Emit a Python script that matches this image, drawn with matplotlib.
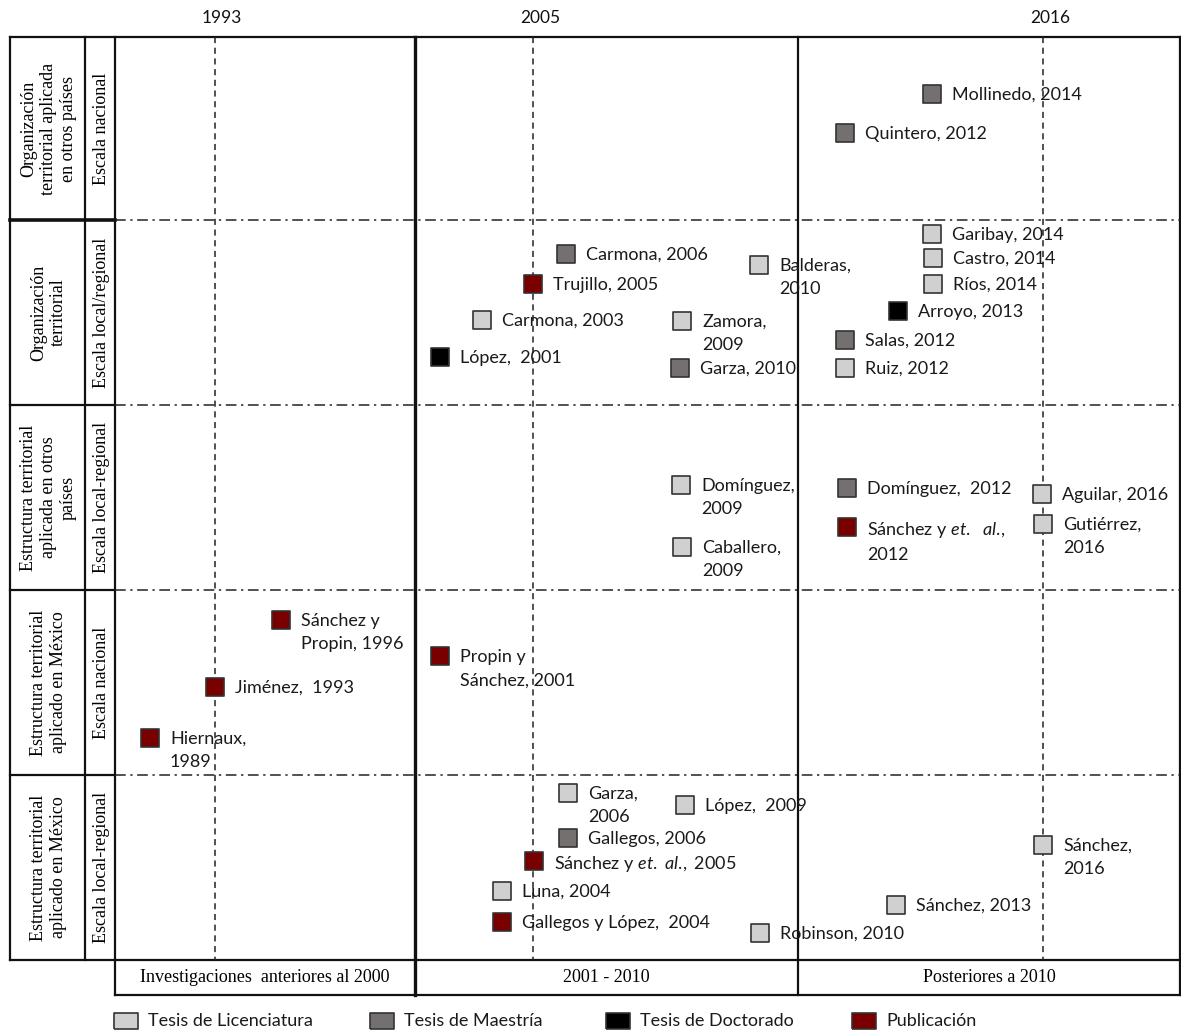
import matplotlib
matplotlib.use("Agg")
import matplotlib.pyplot as plt

plt.rcParams["font.family"] = ["Lato", "DejaVu Sans"]
plt.rcParams["mathtext.fontset"] = "custom"
plt.rcParams["mathtext.rm"] = "Lato"
plt.rcParams["mathtext.it"] = "Lato:italic"

### Data: each work, its kind and where it sits on the diagram (pixel units)
labels = [
    "Mollinedo, 2014", "Quintero, 2012",
    "Garibay, 2014", "Castro, 2014", "Ríos, 2014", "Arroyo, 2013",
    "Salas, 2012", "Ruiz, 2012", "Carmona, 2006", "Balderas,\n2010",
    "Trujillo, 2005", "Carmona, 2003", "Zamora,\n2009", "López,  2001",
    "Garza, 2010",
    "Domínguez,\n2009", "Caballero,\n2009", "Domínguez,  2012",
    "Sánchez y $et.\\ \\ al.\\!,$\n2012", "Aguilar, 2016", "Gutiérrez,\n2016",
    "Sánchez y\nPropin, 1996", "Jiménez,  1993", "Hiernaux,\n1989",
    "Propin y\nSánchez, 2001",
    "Garza,\n2006", "López,  2009", "Gallegos, 2006",
    "Sánchez y $et.\\ al.\\!,$ 2005", "Luna, 2004", "Gallegos y López,  2004",
    "Robinson, 2010", "Sánchez, 2013", "Sánchez,\n2016",
]
kinds = [
    "M", "M",
    "L", "L", "L", "D",
    "M", "L", "M", "L",
    "P", "L", "L", "D",
    "M",
    "L", "L", "M",
    "P", "L", "L",
    "P", "P", "P",
    "P",
    "L", "L", "M",
    "P", "L", "P",
    "L", "L", "L",
]
pos_x = [
    932, 845,
    932, 933, 933, 898,
    845, 845, 566, 759,
    533, 482, 682, 440,
    680,
    681, 682, 847,
    847, 1042, 1043,
    281, 215, 150,
    440,
    568, 685, 568,
    534, 502, 502,
    760, 896, 1043,
]
pos_y = [
    94, 133,
    234, 258, 284, 311,
    340, 368, 254, 265,
    284, 320, 321, 357,
    368,
    485, 547, 488,
    527, 494, 524,
    620, 687, 738,
    656,
    793, 805, 838,
    861, 891, 922,
    933, 905, 845,
]

kind_names = {"L": "Tesis de Licenciatura", "M": "Tesis de Maestría",
              "D": "Tesis de Doctorado", "P": "Publicación"}
kind_colors = {"L": "#d0d0d0", "M": "#747070", "D": "#000000", "P": "#7a0000"}

row_titles = [
    "Organización\nterritorial aplicada\nen otros países",
    "Organización\nterritorial",
    "Estructura territorial\naplicada en otros\npaíses",
    "Estructura territorial\naplicado en México",
    "Estructura territorial\naplicado en México",
]
row_scales = ["Escala nacional", "Escala local/regional",
              "Escala local-regional", "Escala nacional",
              "Escala local-regional"]
period_names = ["Investigaciones  anteriores al 2000", "2001 - 2010",
                "Posteriores a 2010"]
year_names = ["1993", "2005", "2016"]

### Layout of the grid (pixel units)
row_edges = [37, 220, 405, 590, 775, 960]
period_edges = [115, 415, 798, 1180]
year_x = [215, 533, 1043]
left_cols = [10, 85, 115]
bottom_row = [960, 995]

fig = plt.figure(figsize=(11.81, 10.34), dpi=100)
ax = fig.add_axes([0, 0, 1, 1])
ax.set_xlim(0, 1181)
ax.set_ylim(1034, 0)
ax.axis("off")

serif = ["Liberation Serif", "DejaVu Serif"]

# frame lines
lw = 1.6
ax.plot([left_cols[0], period_edges[-1]], [row_edges[0]] * 2, color="#111", lw=lw)
ax.plot([left_cols[0], period_edges[-1]], [row_edges[-1]] * 2, color="#111", lw=lw)
for x in left_cols:
    ax.plot([x, x], [row_edges[0], row_edges[-1]], color="#111", lw=lw)
ax.plot([period_edges[-1]] * 2, [row_edges[0], bottom_row[1]], color="#111", lw=lw)
ax.plot([period_edges[0]] * 2, [row_edges[-1], bottom_row[1]], color="#111", lw=lw)
ax.plot([period_edges[1]] * 2, [row_edges[0], bottom_row[1]], color="#111", lw=2.4)
ax.plot([period_edges[2]] * 2, [row_edges[0], bottom_row[1]], color="#111", lw=lw)
ax.plot([period_edges[0], period_edges[-1]], [bottom_row[1]] * 2, color="#111", lw=lw)

for i, y in enumerate(row_edges[1:-1]):
    ax.plot([left_cols[0], left_cols[-1]], [y, y], color="#111",
            lw=2.6 if i == 0 else lw)
    ax.plot([period_edges[0], period_edges[-1]], [y, y], color="#222",
            lw=1.1, dashes=(7, 3, 1.5, 3))

for x, name in zip(year_x, year_names):
    ax.plot([x, x], [row_edges[0], row_edges[-1]], color="#222", lw=1.1,
            dashes=(4, 3))
    ax.text(x + 7, 18, name, ha="center", va="center", fontsize=12.5,
            color="#111")

# left row headers
for i in range(5):
    yc = (row_edges[i] + row_edges[i + 1]) / 2
    ax.text((left_cols[0] + left_cols[1]) / 2 + 1, yc, row_titles[i],
            rotation=90, ha="center", va="center", fontsize=13,
            family=serif, linespacing=1.2)
    ax.text((left_cols[1] + left_cols[2]) / 2 + 1, yc, row_scales[i],
            rotation=90, ha="center", va="center", fontsize=13,
            family=serif)

# period labels
for i, name in enumerate(period_names):
    xc = (period_edges[i] + period_edges[i + 1]) / 2
    ax.text(xc, (bottom_row[0] + bottom_row[1]) / 2, name, ha="center",
            va="center", fontsize=13, family=serif)

# works
for k in kind_names:
    xs = [x for x, kk in zip(pos_x, kinds) if kk == k]
    ys = [y for y, kk in zip(pos_y, kinds) if kk == k]
    ax.scatter(xs, ys, marker="s", s=160, color=kind_colors[k],
               edgecolors="#333", linewidths=1.2, zorder=3)
for x, y, lab in zip(pos_x, pos_y, labels):
    ax.text(x + 20, y - 7, lab, ha="left", va="top", fontsize=13,
            color="#1a1a1a", linespacing=1.55, zorder=4)

# legend
wide_box = [(-1.6, -1), (1.6, -1), (1.6, 1), (-1.6, 1), (-1.6, -1)]
leg_x = [126, 382, 618, 864]
for (k, name), lx in zip(kind_names.items(), leg_x):
    ax.scatter([lx], [1021], marker=wide_box, s=300, color=kind_colors[k],
               edgecolors="#333", linewidths=1.2)
    ax.text(lx + 22, 1021, name, ha="left", va="center", fontsize=13,
            color="#1a1a1a")

fig.savefig("out.png", dpi=100)
